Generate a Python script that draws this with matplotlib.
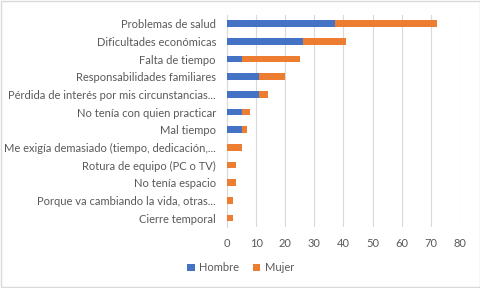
import numpy as np
import matplotlib.pyplot as plt
from matplotlib.patches import Rectangle

categorias = ["Problemas de salud", "Dificultades económicas", "Falta de tiempo",
              "Responsabilidades familiares", "Pérdida de interés por mis circunstancias...",
              "No tenía con quien practicar", "Mal tiempo",
              "Me exigía demasiado (tiempo, dedicación,...",
              "Rotura de equipo (PC o TV)", "No tenía espacio",
              "Porque va cambiando la vida, otras...", "Cierre temporal"]
hombre = [37, 26, 5, 11, 11, 5, 5, 0, 0, 0, 0, 0]
mujer = [35, 15, 20, 9, 3, 3, 2, 5, 3, 3, 2, 2]

plt.rcParams['font.family'] = ['Lato', 'DejaVu Sans']
gris = '#595959'

fig = plt.figure(figsize=(4.81, 2.88), dpi=100)
ax = fig.add_axes([0.472, 0.212, 0.484, 0.736])
fig.patches.append(Rectangle((0.002, 0.003), 0.996, 0.994, transform=fig.transFigure,
                             fill=False, edgecolor='#d9d9d9', linewidth=1))

y = np.arange(len(categorias))
ax.barh(y, hombre, height=0.38, color='#4472C4', label='Hombre', zorder=3)
ax.barh(y, mujer, height=0.38, left=hombre, color='#ED7D31', label='Mujer', zorder=3)

ax.set_yticks(y)
ax.set_yticklabels(categorias)
ax.set_ylim(len(categorias) - 0.5, -0.5)
ax.set_xlim(0, 80)
ax.set_xticks(range(0, 81, 10))
ax.grid(axis='x', color='#d9d9d9', linewidth=0.8, zorder=0)
for s in ['top', 'right', 'bottom']:
    ax.spines[s].set_visible(False)
ax.spines['left'].set_color('#d9d9d9')
ax.tick_params(length=0, colors=gris, labelsize=8)
ax.tick_params(axis='x', pad=8)
ax.tick_params(axis='y', pad=8)

fig.legend(loc='center', bbox_to_anchor=(0.5, 0.07), ncol=2, frameon=False,
           fontsize=8, labelcolor=gris, handlelength=0.7, handleheight=0.7,
           columnspacing=1.2, handletextpad=0.4)

fig.savefig('out.png', dpi=100)
